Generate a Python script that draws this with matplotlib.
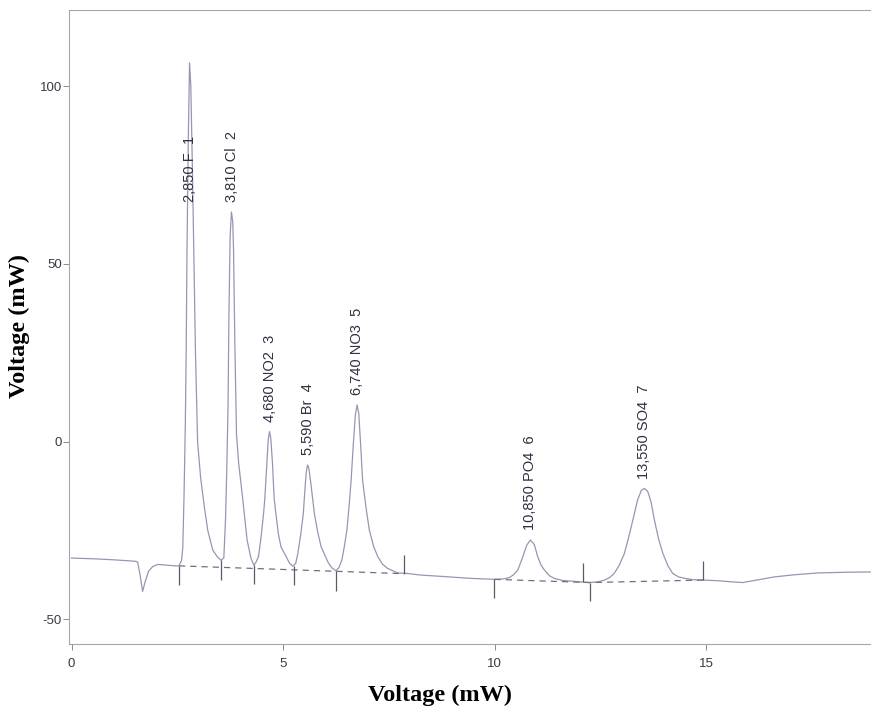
import numpy as np
import matplotlib
matplotlib.use("Agg")
import matplotlib.pyplot as plt

plt.rcParams["axes.unicode_minus"] = False

# chromatogram trace, points
trace_x = [0.0, 0.5, 1.0, 1.5, 1.56, 1.62, 1.68, 1.74, 1.82, 1.92, 2.04, 2.25, 2.45, 2.54,
           2.60, 2.63, 2.66, 2.69, 2.71, 2.73, 2.76, 2.79, 2.82, 2.86, 2.89, 2.93, 2.98,
           3.05, 3.14, 3.22, 3.34, 3.45, 3.53,
           3.60, 3.64, 3.67, 3.70, 3.72, 3.75, 3.78, 3.81, 3.83, 3.86, 3.90, 3.95, 4.05,
           4.15, 4.24, 4.31,
           4.36, 4.42, 4.48, 4.54, 4.57, 4.61, 4.65, 4.68, 4.71, 4.75, 4.79, 4.83, 4.89,
           4.95, 5.07, 5.15, 5.23,
           5.30, 5.35, 5.42, 5.48, 5.52, 5.55, 5.58, 5.61, 5.66, 5.74, 5.82, 5.90, 6.06,
           6.15, 6.25,
           6.32, 6.39, 6.45, 6.51, 6.57, 6.61, 6.66, 6.71, 6.75, 6.79, 6.84, 6.88, 6.96,
           7.04, 7.14, 7.24, 7.35, 7.47, 7.71, 7.91, 8.26,
           8.8, 9.4, 10.0, 10.2, 10.35, 10.45, 10.55, 10.67, 10.76, 10.85, 10.94, 11.02,
           11.10, 11.18, 11.30, 11.41, 11.60, 11.81, 12.0, 12.25,
           12.45, 12.6, 12.72, 12.83, 12.95, 13.07, 13.17, 13.27, 13.38, 13.47, 13.54,
           13.62, 13.70, 13.78, 13.88, 13.98, 14.10, 14.21, 14.35, 14.49, 14.7, 14.94,
           15.3, 15.6, 15.87, 16.2, 16.62, 17.1, 17.64, 18.3, 19.0]
trace_y = [-32.8, -33.0, -33.3, -33.7, -33.9, -37.5, -42.2, -39.5, -36.5, -35.2, -34.6, -34.8, -35.0, -35.0,
           -33.5, -30.0, -15.0, 5.0, 25.0, 54.0, 85.0, 106.6, 100.0, 75.0, 54.0, 25.0, 0.0,
           -10.0, -18.4, -25.0, -30.6, -32.5, -33.4,
           -32.8, -22.0, -8.0, 10.0, 35.0, 58.0, 64.6, 62.0, 54.0, 28.0, 2.0, -6.0, -16.5,
           -27.7, -32.8, -34.8,
           -34.0, -32.4, -27.0, -20.2, -16.0, -8.0, 0.5, 2.8, 1.0, -6.0, -16.0, -20.2, -26.0,
           -29.6, -32.3, -34.2, -35.1,
           -34.3, -31.5, -26.0, -20.2, -13.0, -8.5, -6.6, -7.5, -12.0, -20.2, -25.5, -29.6, -33.9,
           -35.5, -36.4,
           -35.5, -33.4, -29.5, -24.9, -17.0, -10.8, -1.0, 7.5, 10.3, 8.0, -2.0, -10.8, -18.5,
           -24.9, -29.5, -32.4, -34.5, -35.7, -37.0, -37.1, -37.6,
           -38.0, -38.5, -38.8, -38.7, -38.3, -37.5, -36.2, -32.4, -29.2, -27.7, -29.0, -32.4,
           -34.8, -36.2, -37.8, -38.5, -39.1, -39.3, -39.5, -39.7,
           -39.5, -39.0, -38.3, -37.1, -34.8, -31.5, -27.0, -22.1, -16.5, -13.8, -13.2,
           -14.0, -17.0, -22.1, -27.5, -31.5, -35.0, -37.1, -38.1, -38.5, -38.9, -39.0,
           -39.2, -39.5, -39.7, -39.0, -38.1, -37.5, -37.0, -36.8, -36.7]

# integration baselines (dashed)
base1_x = [2.54, 7.86]
base1_y = [-35.0, -37.2]
base2_x = [10.0, 12.25, 14.94]
base2_y = [-38.8, -39.7, -39.0]

# peak start/end markers
mark_x = [2.54, 3.53, 4.31, 5.25, 6.25, 7.86, 9.98, 12.1, 12.25, 14.94]
mark_lo = [-40.4, -39.0, -40.0, -40.4, -42.0, -37.2, -44.0, -39.5, -44.8, -39.0]
mark_hi = [-35.0, -33.4, -34.8, -35.1, -36.4, -32.0, -38.8, -34.2, -39.7, -33.6]

# peak table
peak_rt = [2.80, 3.79, 4.68, 5.58, 6.75, 10.85, 13.54]
peak_h = [106.6, 64.6, 2.8, -6.6, 10.3, -27.7, -13.2]
peak_time = ["2,850", "3,810", "4,680", "5,590", "6,740", "10,850", "13,550"]
peak_name = ["F", "Cl", "NO2", "Br", "NO3", "PO4", "SO4"]
peak_no = [1, 2, 3, 4, 5, 6, 7]

fig = plt.figure(figsize=(8.71, 7.12), dpi=100)
ax = fig.add_axes([69/871, 68/712, 802/871, 634/712])

ax.plot(trace_x, trace_y, color="#9597b2", lw=0.9)
ax.plot(base1_x, base1_y, color="#6f7080", lw=0.9, ls=(0, (5, 4)))
ax.plot(base2_x, base2_y, color="#6f7080", lw=0.9, ls=(0, (5, 4)))
ax.vlines(mark_x, mark_lo, mark_hi, color="#5a5b6a", lw=0.9)

# labels sit just above the apex, capped for the tall fluoride peak
for rt, h, t, n, k in zip(peak_rt, peak_h, peak_time, peak_name, peak_no):
    ax.annotate(f"{t} {n}  {k}", xy=(rt, min(h, 64.6)), xytext=(0, 7),
                textcoords="offset points", rotation=90, ha="center", va="bottom",
                fontsize=10.5, family="Liberation Sans", color="#2f3040")

ax.set_xlim(-0.06, 18.9)
ax.set_ylim(-57, 121.5)
ax.set_xticks([0, 5, 10, 15])
ax.set_yticks([-50, 0, 50, 100])

for s in ["left", "top", "bottom"]:
    ax.spines[s].set_color("#a4a4ae")
    ax.spines[s].set_linewidth(0.8)
ax.spines["right"].set_visible(False)
ax.tick_params(direction="out", length=4, width=0.7, color="#8a8a96",
               labelsize=9.5, labelcolor="#3a3a44")
ax.tick_params(axis="x", pad=6)
ax.tick_params(axis="y", pad=1)
for lab in ax.get_xticklabels() + ax.get_yticklabels():
    lab.set_family("Liberation Sans")

ax.set_xlabel("Voltage (mW)", fontsize=17.5, fontweight="bold", family="Liberation Serif")
ax.set_ylabel("Voltage (mW)", fontsize=17.5, fontweight="bold", family="Liberation Serif")
ax.xaxis.set_label_coords(0.4626, -0.064)
ax.yaxis.set_label_coords(-0.049, 0.5016)

fig.savefig("out.png", dpi=100)
